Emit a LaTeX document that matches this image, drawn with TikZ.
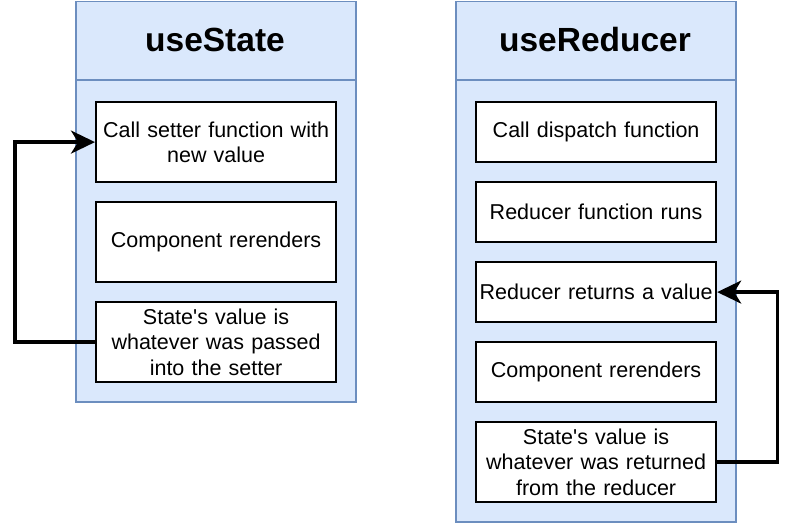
\documentclass[tikz,border=0pt]{standalone}
\usepackage{fontspec}
\setmainfont{Liberation Sans}[Ligatures=TeXOff]
\usetikzlibrary{arrows.meta}
\definecolor{cfill}{HTML}{DAE8FC}
\definecolor{cstroke}{HTML}{6C8EBF}
\begin{document}
\begin{tikzpicture}[x=1pt,y=-1pt,
  container/.style={draw=cstroke,fill=cfill,line width=1.5pt,rectangle,inner sep=0pt,anchor=north west},
  title/.style={font=\fontsize{33.5}{38}\selectfont\bfseries,anchor=center},
  stepbox/.style={draw=black,fill=white,line width=2.2pt,rectangle,inner sep=0pt,anchor=north west,
    minimum width=240pt,text width=236pt,align=center,font=\fontsize{21.5}{25.5}\selectfont},
  loop/.style={draw=black,line width=3.3pt,-{Stealth[length=24pt,width=23pt,inset=7pt]}}
]
\useasboundingbox (0,0) rectangle (794,524);
% left container
\node[container,minimum width=280pt,minimum height=400pt] (lc) at (75,1) {};
\draw[cstroke,line width=1.5pt] (75,80) -- (355,80);
\node[title] (lt) at (215,40) {useState};
\node[stepbox,minimum height=80pt] (a1) at (95,101) {Call setter function with\\new value};
\node[stepbox,minimum height=80pt] (a2) at (95,201) {Component rerenders};
\node[stepbox,minimum height=80pt] (a3) at (95,301) {State's value is\\whatever was passed\\into the setter};
% right container
\node[container,minimum width=280pt,minimum height=520pt] (rc) at (455,1) {};
\draw[cstroke,line width=1.5pt] (455,80) -- (735,80);
\node[title] (rt) at (595,40) {useReducer};
\node[stepbox,minimum height=60pt] (b1) at (475,101) {Call dispatch function};
\node[stepbox,minimum height=60pt] (b2) at (475,181) {Reducer function runs};
\node[stepbox,minimum height=60pt] (b3) at (475,261) {Reducer returns a value};
\node[stepbox,minimum height=60pt] (b4) at (475,341) {Component rerenders};
\node[stepbox,minimum height=80pt] (b5) at (475,421) {State's value is\\whatever was returned\\from the reducer};
% loops
\draw[loop] (a3.west) -- ++(-80,0) |- (a1.west);
\draw[loop] (b5.east) -- ++(60,0) |- (b3.east);
\end{tikzpicture}
\end{document}
